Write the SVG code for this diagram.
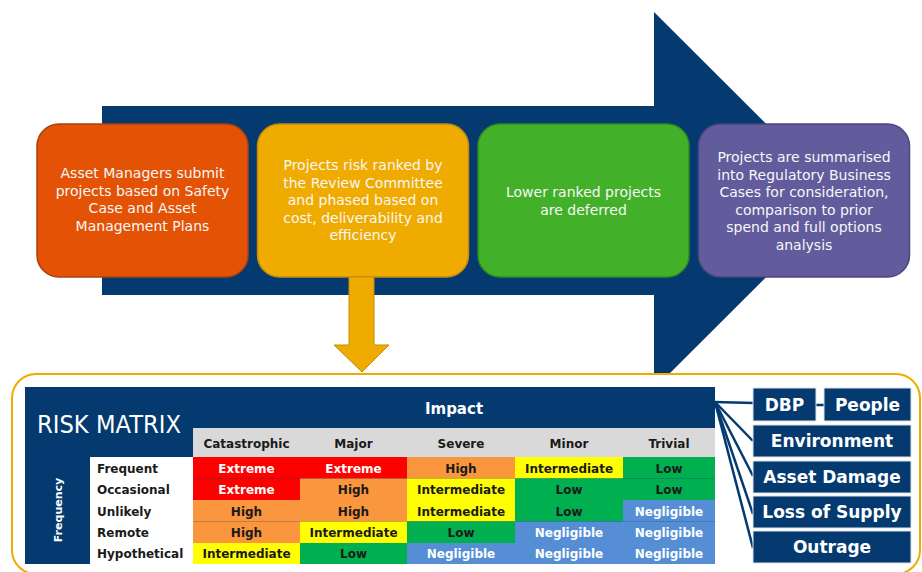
<svg xmlns="http://www.w3.org/2000/svg" width="922" height="572" viewBox="0 0 922 572">
  <style>
    .step { font-family: "DejaVu Sans", Verdana, sans-serif; font-size: 14px; fill: #f7f7f7; text-anchor: middle; }
    .hdr { font-family: "DejaVu Sans", Verdana, sans-serif; font-weight: bold; font-size: 12px; fill: #1a1a1a; text-anchor: middle; }
    .rowlbl { font-family: "DejaVu Sans", Verdana, sans-serif; font-weight: bold; font-size: 12px; fill: #1a1a1a; }
    .cell { font-family: "DejaVu Sans", Verdana, sans-serif; font-weight: bold; font-size: 12px; text-anchor: middle; }
    .dk { fill: #1a1a1a; }
    .wt { fill: #ffffff; }
    .cat { fill: #043a6f; stroke: #dce4ee; stroke-width: 1; }
    .catlbl { font-family: "DejaVu Sans", Verdana, sans-serif; font-weight: bold; font-size: 17px; fill: #ffffff; text-anchor: middle; }
    .ext { fill: #ff0000; }
    .hi { fill: #f9963e; }
    .int { fill: #ffff00; }
    .low { fill: #00b050; }
    .neg { fill: #558ed5; }
  </style>

  <!-- process flow arrow -->
  <polygon id="flow-arrow" points="102,106 654,106 654,12 843,200.5 654,389 654,295 102,295" fill="#043a6f"/>

  <!-- process steps -->
  <g id="step-submit">
    <rect x="37" y="124" width="211" height="153" rx="22" fill="#e35205" stroke="#a9420f" stroke-width="1.5"/>
    <text class="step" x="142.5" y="178">Asset Managers submit</text>
    <text class="step" x="142.5" y="195.6">projects based on Safety</text>
    <text class="step" x="142.5" y="213.2">Case and Asset</text>
    <text class="step" x="142.5" y="230.8">Management Plans</text>
  </g>
  <g id="step-rank">
    <rect x="257.5" y="124" width="211" height="153" rx="22" fill="#f0ab00" stroke="#c48c08" stroke-width="1.5"/>
    <text class="step" x="363" y="170">Projects risk ranked by</text>
    <text class="step" x="363" y="187.6">the Review Committee</text>
    <text class="step" x="363" y="205.2">and phased based on</text>
    <text class="step" x="363" y="222.8">cost, deliverability and</text>
    <text class="step" x="363" y="240.4">efficiency</text>
  </g>
  <g id="step-defer">
    <rect x="478" y="124" width="211" height="153" rx="22" fill="#43b02a" stroke="#2f8c1e" stroke-width="1.5"/>
    <text class="step" x="583.5" y="197">Lower ranked projects</text>
    <text class="step" x="583.5" y="214.6">are deferred</text>
  </g>
  <g id="step-summarise">
    <rect x="698.5" y="124" width="211" height="153" rx="22" fill="#625c9c" stroke="#4a4682" stroke-width="1.5"/>
    <text class="step" x="804" y="162">Projects are summarised</text>
    <text class="step" x="804" y="179.6">into Regulatory Business</text>
    <text class="step" x="804" y="197.2">Cases for consideration,</text>
    <text class="step" x="804" y="214.8">comparison to prior</text>
    <text class="step" x="804" y="232.4">spend and full options</text>
    <text class="step" x="804" y="250">analysis</text>
  </g>

  <!-- drop-down arrow into the matrix -->
  <polygon id="rank-arrow" points="349,277 374,277 374,345 389,345 362,372 334,345 349,345" fill="#f0ab00" stroke="#c48c08" stroke-width="1"/>

  <!-- matrix panel -->
  <rect id="matrix-panel" x="12" y="374" width="908" height="200" rx="24" fill="#ffffff" stroke="#f0ab00" stroke-width="2"/>

  <g id="risk-matrix">
    <rect x="25" y="387" width="690" height="177" fill="#043a6f"/>
    <text x="37" y="432.5" font-family="DejaVu Sans, Verdana, sans-serif" font-size="24" fill="#ffffff" textLength="144" lengthAdjust="spacingAndGlyphs">RISK MATRIX</text>
    <text x="454" y="414" font-family="DejaVu Sans, Verdana, sans-serif" font-weight="bold" font-size="15" fill="#ffffff" text-anchor="middle">Impact</text>
    <text transform="translate(62,510) rotate(-90)" font-family="DejaVu Sans, Verdana, sans-serif" font-weight="bold" font-size="11" fill="#ffffff" text-anchor="middle">Frequency</text>

    <!-- impact header row -->
    <rect x="193" y="428" width="522" height="29" fill="#d9d9d9"/>
    <text class="hdr" x="246.5" y="447.5">Catastrophic</text>
    <text class="hdr" x="353.5" y="447.5">Major</text>
    <text class="hdr" x="461" y="447.5">Severe</text>
    <text class="hdr" x="569" y="447.5">Minor</text>
    <text class="hdr" x="669" y="447.5">Trivial</text>

    <!-- frequency labels -->
    <rect x="90" y="457" width="103" height="107" fill="#ffffff"/>
    <text class="rowlbl" x="97" y="472.5">Frequent</text>
    <text class="rowlbl" x="97" y="494">Occasional</text>
    <text class="rowlbl" x="97" y="515.5">Unlikely</text>
    <text class="rowlbl" x="97" y="537">Remote</text>
    <text class="rowlbl" x="97" y="558">Hypothetical</text>

    <!-- cells: columns at 193/300/407/515/623/715, rows at 457/478.5/500/521.5/543/564 -->
    <g id="row-frequent">
      <rect class="ext" x="193" y="457" width="107" height="21.5"/>
      <rect class="ext" x="300" y="457" width="107" height="21.5"/>
      <rect class="hi" x="407" y="457" width="108" height="21.5"/>
      <rect class="int" x="515" y="457" width="108" height="21.5"/>
      <rect class="low" x="623" y="457" width="92" height="21.5"/>
      <text class="cell wt" x="246.5" y="472.5">Extreme</text>
      <text class="cell wt" x="353.5" y="472.5">Extreme</text>
      <text class="cell dk" x="461" y="472.5">High</text>
      <text class="cell dk" x="569" y="472.5">Intermediate</text>
      <text class="cell dk" x="669" y="472.5">Low</text>
    </g>
    <g id="row-occasional">
      <rect class="ext" x="193" y="478.5" width="107" height="21.5"/>
      <rect class="hi" x="300" y="478.5" width="107" height="21.5"/>
      <rect class="int" x="407" y="478.5" width="108" height="21.5"/>
      <rect class="low" x="515" y="478.5" width="108" height="21.5"/>
      <rect class="low" x="623" y="478.5" width="92" height="21.5"/>
      <text class="cell wt" x="246.5" y="494">Extreme</text>
      <text class="cell dk" x="353.5" y="494">High</text>
      <text class="cell dk" x="461" y="494">Intermediate</text>
      <text class="cell dk" x="569" y="494">Low</text>
      <text class="cell dk" x="669" y="494">Low</text>
    </g>
    <g id="row-unlikely">
      <rect class="hi" x="193" y="500" width="107" height="21.5"/>
      <rect class="hi" x="300" y="500" width="107" height="21.5"/>
      <rect class="int" x="407" y="500" width="108" height="21.5"/>
      <rect class="low" x="515" y="500" width="108" height="21.5"/>
      <rect class="neg" x="623" y="500" width="92" height="21.5"/>
      <text class="cell dk" x="246.5" y="515.5">High</text>
      <text class="cell dk" x="353.5" y="515.5">High</text>
      <text class="cell dk" x="461" y="515.5">Intermediate</text>
      <text class="cell dk" x="569" y="515.5">Low</text>
      <text class="cell wt" x="669" y="515.5">Negligible</text>
    </g>
    <g id="row-remote">
      <rect class="hi" x="193" y="521.5" width="107" height="21.5"/>
      <rect class="int" x="300" y="521.5" width="107" height="21.5"/>
      <rect class="low" x="407" y="521.5" width="108" height="21.5"/>
      <rect class="neg" x="515" y="521.5" width="108" height="21.5"/>
      <rect class="neg" x="623" y="521.5" width="92" height="21.5"/>
      <text class="cell dk" x="246.5" y="537">High</text>
      <text class="cell dk" x="353.5" y="537">Intermediate</text>
      <text class="cell dk" x="461" y="537">Low</text>
      <text class="cell wt" x="569" y="537">Negligible</text>
      <text class="cell wt" x="669" y="537">Negligible</text>
    </g>
    <g id="row-hypothetical">
      <rect class="int" x="193" y="543" width="107" height="21"/>
      <rect class="low" x="300" y="543" width="107" height="21"/>
      <rect class="neg" x="407" y="543" width="108" height="21"/>
      <rect class="neg" x="515" y="543" width="108" height="21"/>
      <rect class="neg" x="623" y="543" width="92" height="21"/>
      <text class="cell dk" x="246.5" y="558">Intermediate</text>
      <text class="cell dk" x="353.5" y="558">Low</text>
      <text class="cell wt" x="461" y="558">Negligible</text>
      <text class="cell wt" x="569" y="558">Negligible</text>
      <text class="cell wt" x="669" y="558">Negligible</text>
    </g>
  </g>

  <!-- connectors from the impact header to the impact categories -->
  <g id="connectors" stroke="#043a6f" stroke-width="2.5" fill="none">
    <line x1="714" y1="402" x2="754" y2="403"/>
    <line x1="715" y1="402" x2="753" y2="441"/>
    <line x1="715" y1="402" x2="753" y2="476"/>
    <line x1="715" y1="402" x2="753" y2="514"/>
    <line x1="715" y1="402" x2="753" y2="548"/>
    <line x1="815" y1="405" x2="825" y2="405"/>
  </g>

  <!-- impact categories -->
  <g id="cat-dbp">
    <rect class="cat" x="753" y="388" width="63" height="33"/>
    <text class="catlbl" x="784.5" y="411">DBP</text>
  </g>
  <g id="cat-people">
    <rect class="cat" x="824" y="388" width="87" height="33"/>
    <text class="catlbl" x="867.5" y="411">People</text>
  </g>
  <g id="cat-environment">
    <rect class="cat" x="753" y="425" width="158" height="32"/>
    <text class="catlbl" x="832" y="447">Environment</text>
  </g>
  <g id="cat-asset-damage">
    <rect class="cat" x="753" y="461" width="158" height="32"/>
    <text class="catlbl" x="832" y="483">Asset Damage</text>
  </g>
  <g id="cat-loss-of-supply">
    <rect class="cat" x="753" y="496" width="158" height="32"/>
    <text class="catlbl" x="832" y="518">Loss of Supply</text>
  </g>
  <g id="cat-outrage">
    <rect class="cat" x="753" y="531" width="158" height="32"/>
    <text class="catlbl" x="832" y="553">Outrage</text>
  </g>
</svg>
